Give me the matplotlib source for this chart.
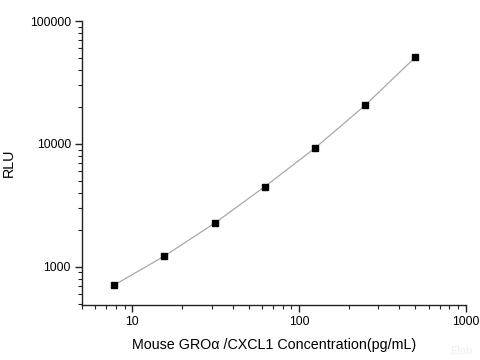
import matplotlib
matplotlib.use("Agg")
import matplotlib.pyplot as plt
from matplotlib.ticker import LogLocator, NullFormatter, FixedLocator, FixedFormatter

conc = [7.8, 15.6, 31.25, 62.5, 125, 250, 500]
rlu = [710, 1222, 2266, 4495, 9250, 20650, 50800]

x_ticks = [10, 100, 1000]
x_labels = ["10", "100", "1000"]
y_ticks = [1000, 10000, 100000]
y_labels = ["1000", "10000", "100000"]

plt.rcParams['font.family'] = ['Liberation Sans', 'DejaVu Sans']

fig = plt.figure(figsize=(4.8, 3.6), dpi=100)
ax = fig.add_axes([0.171, 0.1536, 0.799, 0.788])

ax.plot(conc, rlu, color='#a8a8a8', lw=0.9, zorder=1)
ax.plot(conc, rlu, ls='none', marker='s', ms=4.5, color='black', zorder=2)

ax.set_xscale('log')
ax.set_yscale('log')
ax.set_xlim(5, 1000)
ax.set_ylim(491, 100000)

ax.xaxis.set_major_locator(FixedLocator(x_ticks))
ax.xaxis.set_major_formatter(FixedFormatter(x_labels))
ax.yaxis.set_major_locator(FixedLocator(y_ticks))
ax.yaxis.set_major_formatter(FixedFormatter(y_labels))
ax.xaxis.set_minor_locator(LogLocator(base=10, subs=range(2, 10)))
ax.yaxis.set_minor_locator(LogLocator(base=10, subs=range(2, 10)))
ax.xaxis.set_minor_formatter(NullFormatter())
ax.yaxis.set_minor_formatter(NullFormatter())

for s in ['top', 'right']:
    ax.spines[s].set_visible(False)
for s in ['left', 'bottom']:
    ax.spines[s].set_linewidth(1.0)
    ax.spines[s].set_color('#222222')

ax.tick_params(which='major', direction='out', length=5, width=1, labelsize=8.8, colors='#222222', pad=3)
ax.tick_params(which='minor', direction='out', length=3, width=0.8, colors='#222222')
ax.tick_params(labelcolor='black')

ax.set_xlabel('Mouse GROα /CXCL1 Concentration(pg/mL)', fontsize=10.3, labelpad=7)
ax.set_ylabel('RLU', fontsize=10.3, labelpad=10)

fig.text(0.985, 0.01, 'Elab', fontsize=8, color='#f0f0f0', ha='right', va='bottom')

fig.savefig('out.png', dpi=100)
